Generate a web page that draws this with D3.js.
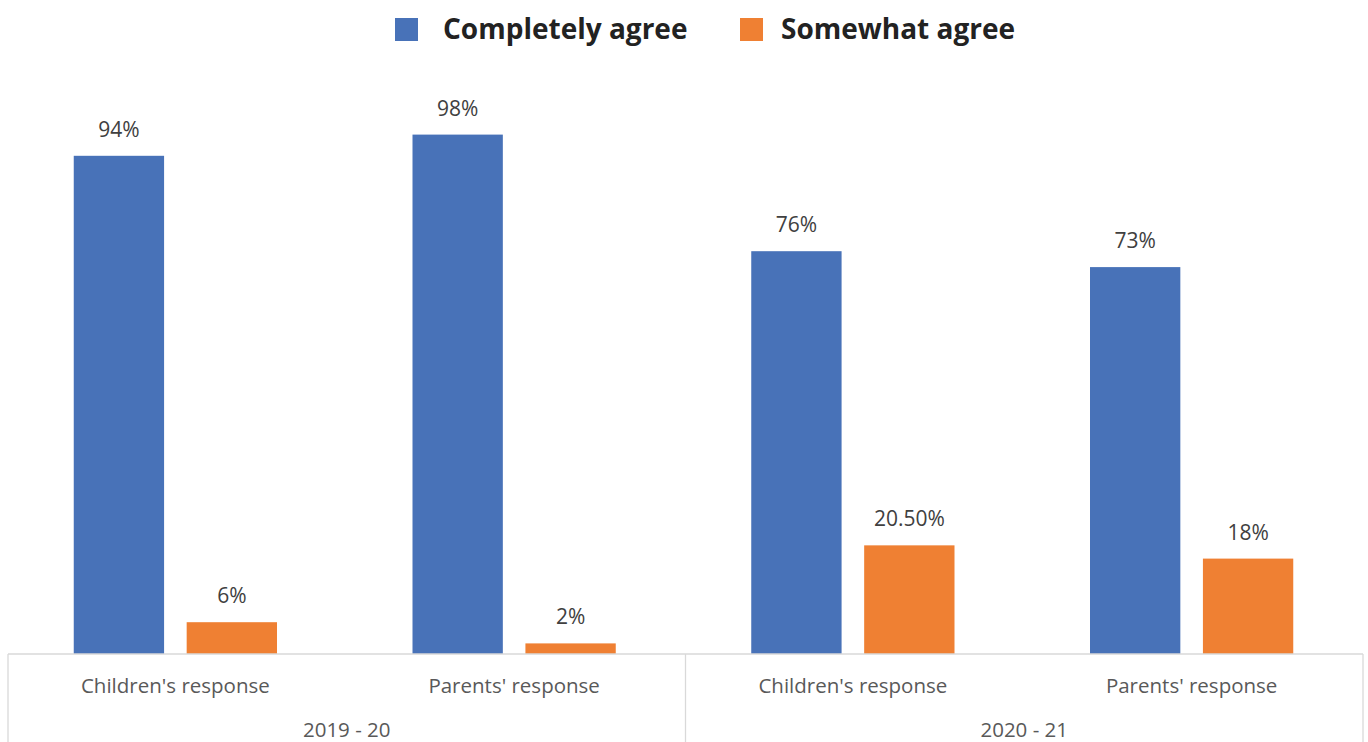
<!DOCTYPE html>
<html>
<head>
<meta charset="utf-8">
<script src="https://cdn.jsdelivr.net/npm/d3@7"></script>
<style>
  html, body { margin: 0; padding: 0; background: #fff; }
  svg { display: block; }
  text { font-family: "Open Sans", "Noto Sans", sans-serif; }
</style>
</head>
<body>
<svg id="chart" width="1368" height="742"></svg>
<script>
const categories = ["Children's response", "Parents' response", "Children's response", "Parents' response"];
const groups = ["2019 - 20", "2020 - 21"];
const groupOf = [0, 0, 1, 1];
const seriesNames = ["Completely agree", "Somewhat agree"];
const completelyAgree = [94, 98, 76, 73];
const somewhatAgree = [6, 2, 20.5, 18];
const completelyLabels = ["94%", "98%", "76%", "73%"];
const somewhatLabels = ["6%", "2%", "20.50%", "18%"];
const colors = ["#4872b8", "#ef8033"];

const svg = d3.select("#chart");
const W = 1368, H = 742;
const plotLeft = 8, plotRight = 1363, baseY = 654, topY = 124;

const idx = categories.map((d, i) => i);
const x0 = d3.scaleBand().domain(idx).range([plotLeft, plotRight]).paddingInner(0).paddingOuter(0);
const x1 = d3.scaleBand().domain([0, 1]).range([0, x0.bandwidth()]).paddingInner(0.2).paddingOuter(0.6);
const y = d3.scaleLinear().domain([0, 100]).range([baseY, topY]);

const series = [completelyAgree, somewhatAgree];
const labels = [completelyLabels, somewhatLabels];

// bars
const g = svg.append("g");
series.forEach((vals, s) => {
  g.selectAll(".bar" + s).data(vals).enter().append("rect")
    .attr("x", (d, i) => x0(i) + x1(s) - 2)
    .attr("y", d => y(d))
    .attr("width", x1.bandwidth())
    .attr("height", d => baseY - y(d))
    .attr("fill", colors[s]);
  g.selectAll(".lab" + s).data(vals).enter().append("text")
    .attr("x", (d, i) => x0(i) + x1(s) - 2 + x1.bandwidth() / 2)
    .attr("y", d => y(d) - 19)
    .attr("text-anchor", "middle")
    .attr("font-size", "21px")
    .attr("fill", "#404040")
    .text((d, i) => labels[s][i]);
});

// axis frame
const axisColor = "#d9d9d9";
svg.append("line").attr("x1", plotLeft).attr("x2", plotRight).attr("y1", baseY).attr("y2", baseY)
  .attr("stroke", axisColor).attr("stroke-width", 1.3);
const groupBounds = [plotLeft, x0(2), plotRight];
groupBounds.forEach(xv => {
  svg.append("line").attr("x1", xv).attr("x2", xv).attr("y1", baseY).attr("y2", H)
    .attr("stroke", axisColor).attr("stroke-width", 1.3);
});

// category labels
svg.selectAll(".cat").data(categories).enter().append("text")
  .attr("x", (d, i) => x0(i) + x0.bandwidth() / 2 - 2)
  .attr("y", 693)
  .attr("text-anchor", "middle")
  .attr("font-size", "20.5px")
  .attr("fill", "#595959")
  .text(d => d);

// group labels
svg.selectAll(".grp").data(groups).enter().append("text")
  .attr("x", (d, gi) => {
    const members = idx.filter(i => groupOf[i] === gi);
    return (x0(members[0]) + x0(members[members.length - 1]) + x0.bandwidth()) / 2;
  })
  .attr("y", 737)
  .attr("text-anchor", "middle")
  .attr("font-size", "20.5px")
  .attr("fill", "#595959")
  .text(d => d);

// legend
const legend = [
  { name: seriesNames[0], color: colors[0], sx: 395, tx: 443 },
  { name: seriesNames[1], color: colors[1], sx: 740, tx: 781 }
];
legend.forEach(l => {
  svg.append("rect").attr("x", l.sx).attr("y", 18).attr("width", 23).attr("height", 23).attr("fill", l.color);
  svg.append("text").attr("x", l.tx).attr("y", 39).attr("font-size", "28px").attr("font-weight", "bold")
    .attr("fill", "#222").text(l.name);
});
</script>
</body>
</html>
